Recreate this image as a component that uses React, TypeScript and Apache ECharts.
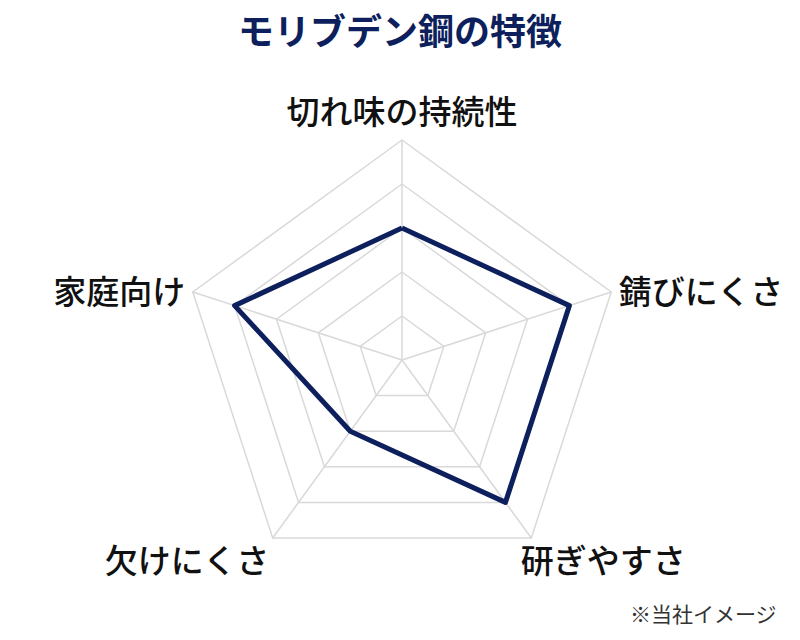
import React, { useEffect, useRef } from 'react';
import * as echarts from 'echarts';

// listed counter-clockwise from the top, the order the radar draws them in
const indicatorNames = ['切れ味の持続性', '家庭向け', '欠けにくさ', '研ぎやすさ', '錆びにくさ'];
const scores = [3, 4, 2, 4, 4];
const maxScore = 5;

const NAVY = '#0d1f5c';
const FONT = '"Noto Sans CJK JP", "Noto Sans", sans-serif';

// per-name tweaks so the labels sit where the original has them
const nameStyles: Record<string, any> = {
    '切れ味の持続性': { nameGap: 14 },
    '研ぎやすさ': { nameGap: 6, nameTextStyle: { align: 'left', verticalAlign: 'top', padding: [0, 0, 0, -14] } },
    '欠けにくさ': { nameGap: 6, nameTextStyle: { align: 'right', verticalAlign: 'top' } },
};

const App: React.FC = () => {
    const chartRef = useRef<HTMLDivElement | null>(null);

    useEffect(() => {
        document.body.style.margin = '0';
        if (!chartRef.current) return;

        const myChart = echarts.init(chartRef.current, undefined, { renderer: 'svg' });

        const option = {
            animation: false,
            backgroundColor: '#fff',
            title: [
                {
                    text: 'モリブデン鋼の特徴',
                    left: 'center',
                    top: 6,
                    textStyle: { fontFamily: FONT, fontSize: 36, fontWeight: 'bold', color: NAVY }
                },
                {
                    text: '※当社イメージ',
                    right: 18,
                    bottom: 12,
                    textStyle: { fontFamily: FONT, fontSize: 21, fontWeight: 'normal', color: '#333' }
                }
            ],
            radar: {
                center: [402, 360],
                radius: 220,
                startAngle: 90,
                splitNumber: 5,
                shape: 'polygon',
                nameGap: 8,
                indicator: indicatorNames.map(name => ({
                    name,
                    max: maxScore,
                    min: 0,
                    ...(nameStyles[name] || {})
                })),
                axisName: {
                    color: '#111',
                    fontFamily: FONT,
                    fontSize: 33,
                    fontWeight: 500
                },
                axisLine: { lineStyle: { color: '#d9d9d9', width: 1.5 } },
                splitLine: { lineStyle: { color: '#d9d9d9', width: 1.5 } },
                splitArea: { show: false }
            },
            series: [
                {
                    name: 'モリブデン鋼',
                    type: 'radar',
                    symbol: 'none',
                    lineStyle: { color: NAVY, width: 5 },
                    data: [{ value: scores, name: 'モリブデン鋼' }]
                }
            ]
        };

        myChart.setOption(option);

        return () => {
            myChart.dispose();
        };
    }, []);

    return <div ref={chartRef} style={{ width: 800, height: 640 }} />;
};

export default App;
